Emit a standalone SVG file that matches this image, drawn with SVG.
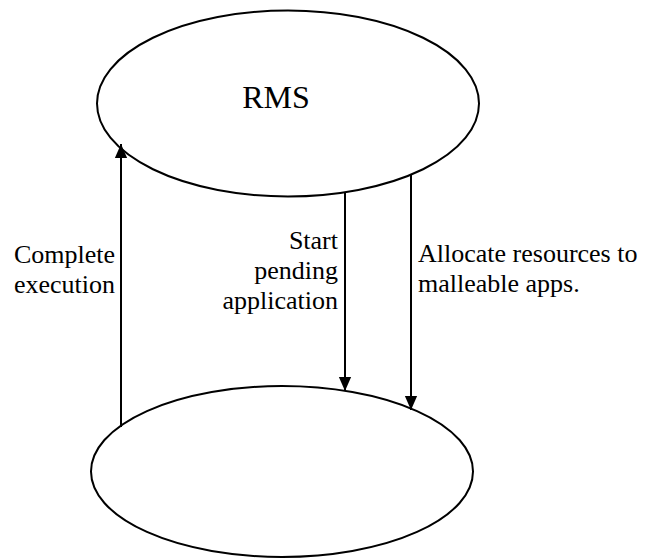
<svg xmlns="http://www.w3.org/2000/svg" width="646" height="558" viewBox="0 0 646 558">
  <defs>
    <style>
      .node { fill: #ffffff; stroke: #000000; stroke-width: 2; }
      .conn { stroke: #000000; stroke-width: 2; fill: none; }
      text { font-family: 'Liberation Serif', 'Times New Roman', 'DejaVu Serif', serif; fill: #000000; }
      .lbl { font-size: 26px; }
      .title { font-size: 32px; }
    </style>
    <marker id="arrow" markerWidth="14" markerHeight="16" refX="16" refY="7" orient="auto" markerUnits="userSpaceOnUse" viewBox="0 0 16 14">
      <path d="M0,0 L16,7 L0,14 Z" fill="#000000"/>
    </marker>
  </defs>
  <rect width="646" height="558" fill="#ffffff"/>
  <g id="rms">
    <ellipse class="node" cx="288" cy="103.5" rx="191" ry="93"/>
    <text class="title" x="276" y="108" text-anchor="middle">RMS</text>
  </g>
  <g id="apps">
    <ellipse class="node" cx="282" cy="471.5" rx="191" ry="85.5"/>
  </g>
  <g id="connectors">
    <line class="conn" x1="121" y1="427" x2="121" y2="144" marker-end="url(#arrow)"/>
    <line class="conn" x1="345" y1="193" x2="345" y2="391" marker-end="url(#arrow)"/>
    <line class="conn" x1="411" y1="175" x2="411" y2="410" marker-end="url(#arrow)"/>
  </g>
  <g id="labels">
    <text class="lbl" text-anchor="end"><tspan x="115" y="263">Complete</tspan><tspan x="115" y="293">execution</tspan></text>
    <text class="lbl" text-anchor="end"><tspan x="338" y="249">Start</tspan><tspan x="338" y="279">pending</tspan><tspan x="338" y="309">application</tspan></text>
    <text class="lbl"><tspan x="418" y="262">Allocate resources to</tspan><tspan x="418" y="292">malleable apps.</tspan></text>
  </g>
</svg>
